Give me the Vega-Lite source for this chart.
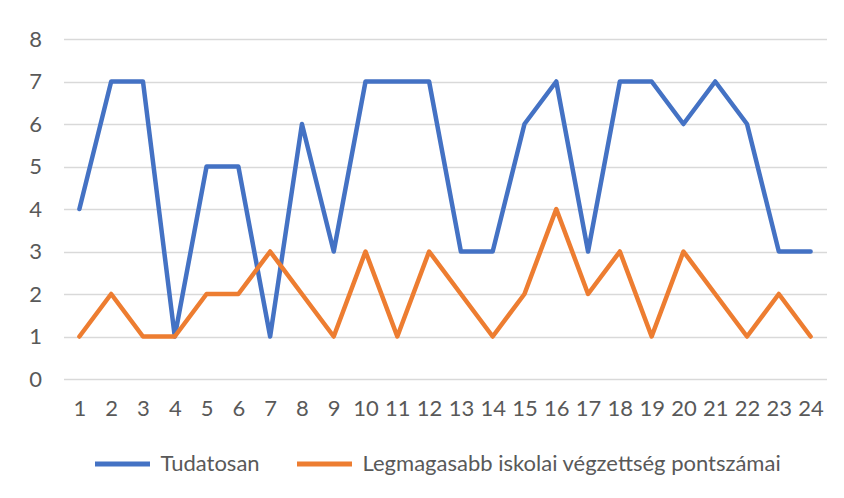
{
  "$schema": "https://vega.github.io/schema/vega-lite/v6.json",
  "autosize": "none",
  "width": 763,
  "height": 340,
  "padding": {"left": 63.5, "top": 39, "right": 17.5, "bottom": 119},
  "background": "white",
  "config": {
    "view": {"stroke": null},
    "font": "Lato",
    "axis": {"labelFont": "Lato", "labelColor": "#595959", "labelFontSize": 22}
  },
  "data": {
    "values": [
      {"x": 1, "s": "Tudatosan", "v": 4}, {"x": 2, "s": "Tudatosan", "v": 7}, {"x": 3, "s": "Tudatosan", "v": 7},
      {"x": 4, "s": "Tudatosan", "v": 1}, {"x": 5, "s": "Tudatosan", "v": 5}, {"x": 6, "s": "Tudatosan", "v": 5},
      {"x": 7, "s": "Tudatosan", "v": 1}, {"x": 8, "s": "Tudatosan", "v": 6}, {"x": 9, "s": "Tudatosan", "v": 3},
      {"x": 10, "s": "Tudatosan", "v": 7}, {"x": 11, "s": "Tudatosan", "v": 7}, {"x": 12, "s": "Tudatosan", "v": 7},
      {"x": 13, "s": "Tudatosan", "v": 3}, {"x": 14, "s": "Tudatosan", "v": 3}, {"x": 15, "s": "Tudatosan", "v": 6},
      {"x": 16, "s": "Tudatosan", "v": 7}, {"x": 17, "s": "Tudatosan", "v": 3}, {"x": 18, "s": "Tudatosan", "v": 7},
      {"x": 19, "s": "Tudatosan", "v": 7}, {"x": 20, "s": "Tudatosan", "v": 6}, {"x": 21, "s": "Tudatosan", "v": 7},
      {"x": 22, "s": "Tudatosan", "v": 6}, {"x": 23, "s": "Tudatosan", "v": 3}, {"x": 24, "s": "Tudatosan", "v": 3},
      {"x": 1, "s": "Legmagasabb iskolai végzettség pontszámai", "v": 1},
      {"x": 2, "s": "Legmagasabb iskolai végzettség pontszámai", "v": 2},
      {"x": 3, "s": "Legmagasabb iskolai végzettség pontszámai", "v": 1},
      {"x": 4, "s": "Legmagasabb iskolai végzettség pontszámai", "v": 1},
      {"x": 5, "s": "Legmagasabb iskolai végzettség pontszámai", "v": 2},
      {"x": 6, "s": "Legmagasabb iskolai végzettség pontszámai", "v": 2},
      {"x": 7, "s": "Legmagasabb iskolai végzettség pontszámai", "v": 3},
      {"x": 8, "s": "Legmagasabb iskolai végzettség pontszámai", "v": 2},
      {"x": 9, "s": "Legmagasabb iskolai végzettség pontszámai", "v": 1},
      {"x": 10, "s": "Legmagasabb iskolai végzettség pontszámai", "v": 3},
      {"x": 11, "s": "Legmagasabb iskolai végzettség pontszámai", "v": 1},
      {"x": 12, "s": "Legmagasabb iskolai végzettség pontszámai", "v": 3},
      {"x": 13, "s": "Legmagasabb iskolai végzettség pontszámai", "v": 2},
      {"x": 14, "s": "Legmagasabb iskolai végzettség pontszámai", "v": 1},
      {"x": 15, "s": "Legmagasabb iskolai végzettség pontszámai", "v": 2},
      {"x": 16, "s": "Legmagasabb iskolai végzettség pontszámai", "v": 4},
      {"x": 17, "s": "Legmagasabb iskolai végzettség pontszámai", "v": 2},
      {"x": 18, "s": "Legmagasabb iskolai végzettség pontszámai", "v": 3},
      {"x": 19, "s": "Legmagasabb iskolai végzettség pontszámai", "v": 1},
      {"x": 20, "s": "Legmagasabb iskolai végzettség pontszámai", "v": 3},
      {"x": 21, "s": "Legmagasabb iskolai végzettség pontszámai", "v": 2},
      {"x": 22, "s": "Legmagasabb iskolai végzettség pontszámai", "v": 1},
      {"x": 23, "s": "Legmagasabb iskolai végzettség pontszámai", "v": 2},
      {"x": 24, "s": "Legmagasabb iskolai végzettség pontszámai", "v": 1}
    ]
  },
  "mark": {"type": "line", "strokeWidth": 4.5, "strokeJoin": "round", "strokeCap": "round"},
  "encoding": {
    "x": {
      "field": "x", "type": "ordinal", "title": null,
      "scale": {"type": "point", "padding": 0.5},
      "axis": {"labelAngle": 0, "domain": false, "ticks": false, "grid": false, "labelPadding": 19}
    },
    "y": {
      "field": "v", "type": "quantitative", "title": null,
      "scale": {"domain": [0, 8], "nice": false},
      "axis": {"values": [0, 1, 2, 3, 4, 5, 6, 7, 8], "labelOverlap": false, "domain": false, "ticks": false, "grid": true, "gridColor": "#D9D9D9", "gridWidth": 1.3, "labelPadding": 22}
    },
    "color": {
      "field": "s", "type": "nominal", "sort": ["Tudatosan", "Legmagasabb iskolai végzettség pontszámai"],
      "scale": {"domain": ["Tudatosan", "Legmagasabb iskolai végzettség pontszámai"], "range": ["#4472C4", "#ED7D31"]},
      "legend": {
        "title": null, "orient": "none", "direction": "horizontal",
        "legendX": 29, "legendY": 395,
        "symbolType": "stroke", "symbolSize": 3025, "symbolStrokeWidth": 5,
        "labelFont": "Lato", "labelFontSize": 22, "labelColor": "#595959",
        "labelOffset": 8, "columnPadding": 26, "labelLimit": 600
      }
    }
  }
}
